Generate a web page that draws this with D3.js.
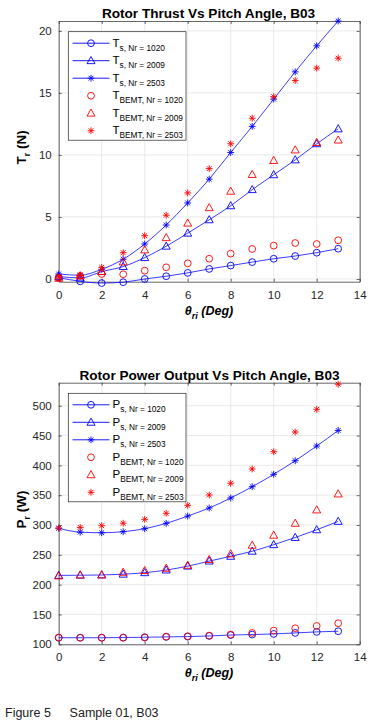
<html>
<meta charset="utf-8" />
<head>
<title>Rotor thrust and power vs pitch angle, B03</title>
<script src="https://cdn.jsdelivr.net/npm/d3@7"></script>
<style>
body { margin:0; background:#fff; }
text { font-family: "Liberation Sans", Arial, sans-serif; }
</style>
<script>
// pitch angle (deg)
const pitch = [0,1,2,3,4,5,6,7,8,9,10,11,12,13];

// rotor thrust (N)
const tS1020    = [0.11,-0.19,-0.33,-0.26,0.0,0.22,0.49,0.81,1.08,1.36,1.63,1.85,2.12,2.44];
const tS2009    = [0.2,0.08,0.59,1.0,1.72,2.64,3.69,4.77,5.9,7.2,8.4,9.6,10.9,12.1];
const tS2503    = [0.4,0.3,0.78,1.59,2.82,4.35,6.13,8.05,10.2,12.3,14.5,16.7,18.8,20.8];
const tB1020    = [0.1,0.24,0.4,0.38,0.67,0.94,1.26,1.63,2.04,2.42,2.69,2.9,2.82,3.12];
const tB2009    = [0.05,0.25,0.6,1.37,2.34,3.33,4.5,5.74,7.07,8.42,9.55,10.4,11.0,11.2];
const tB2503    = [0.15,0.28,0.94,2.12,3.49,5.14,6.94,8.9,10.9,12.96,14.7,16.0,17.0,17.8];

// rotor power output (W)
const pS1020    = [111,111,111,111.3,111.8,112.4,112.9,114,115.5,116.3,117.4,119.1,120.8,121.9];
const pS2009    = [215.5,215.8,216.2,217.5,220,224.5,231,239.5,247.5,256,267,279,292,306];
const pS2503    = [294.5,288,287,288.8,293.8,302.8,315,328.5,345.3,364.2,385,407.8,432.4,458.5];
const pB1020    = [111.3,111,111,111,111.5,112.9,113.5,114.6,116.3,119.1,123,126.9,130.8,135.3];
const pB2009    = [214.5,216.2,216.2,220.7,223.5,227.4,232.4,242,251.5,266,282.8,302.8,325.2,352];
const pB2503    = [295,296,298.8,303,309.5,319.6,333,350.3,370,393.9,422.9,455.9,494,536];

const xTicks = [0,2,4,6,8,10,12,14];
const tTicks = [0,5,10,15,20];
const pTicks = [100,150,200,250,300,350,400,450,500];

const BLUE = "#0000ff", RED = "#ff0000", AX = "#262626";

function star(s) {
	const d = s * 0.707;
	return `M${-s},0L${s},0M0,${-s}L0,${s}M${-d},${-d}L${d},${d}M${-d},${d}L${d},${-d}`;
}
function tri(s) {
	return `M0,${-s}L${s*0.95},${s*0.7}L${-s*0.95},${s*0.7}Z`;
}
function marker(g, kind, color) {
	if (kind === "o") g.append("circle").attr("r", 3.4);
	else g.append("path").attr("d", kind === "^" ? tri(4.2) : star(3.4));
	g.selectAll("*").attr("fill", "none").attr("stroke", color).attr("stroke-width", 0.9);
}

function drawChart(svg, cfg) {
	const x = d3.scaleLinear().domain([0, 14]).range([58.7, 359.7]);
	const y = d3.scaleLinear().domain(cfg.yDomain).range(cfg.yRange);
	const [top, bottom] = [cfg.yRange[1], cfg.yRange[0]];

	const g = svg.append("g");
	// grid
	g.append("g").selectAll("line").data(xTicks).enter().append("line")
		.attr("x1", d => x(d)).attr("x2", d => x(d)).attr("y1", top).attr("y2", bottom)
		.attr("stroke", "#e3e3e3").attr("stroke-width", 0.8);
	g.append("g").selectAll("line").data(cfg.yTicks).enter().append("line")
		.attr("x1", x(0)).attr("x2", x(14)).attr("y1", d => y(d)).attr("y2", d => y(d))
		.attr("stroke", "#e3e3e3").attr("stroke-width", 0.8);

	// axes (box with inward ticks)
	const axB = d3.axisBottom(x).tickValues(xTicks).tickSizeInner(-3).tickSizeOuter(0).tickPadding(9);
	const axT = d3.axisTop(x).tickValues(xTicks).tickSizeInner(-3).tickSizeOuter(0).tickFormat("");
	const axL = d3.axisLeft(y).tickValues(cfg.yTicks).tickSizeInner(-3).tickSizeOuter(0).tickPadding(7);
	const axR = d3.axisRight(y).tickValues(cfg.yTicks).tickSizeInner(-3).tickSizeOuter(0).tickFormat("");
	[[axB, `translate(0,${bottom})`], [axT, `translate(0,${top})`],
	 [axL, `translate(${x(0)},0)`], [axR, `translate(${x(14)},0)`]].forEach(([a, t]) => {
		const ag = g.append("g").attr("transform", t).call(a);
		ag.selectAll("path,line").attr("stroke", AX).attr("stroke-width", 0.7);
		ag.selectAll("text").attr("fill", AX).style("font-size", "11.5px")
			.style("font-family", "'Liberation Sans', Arial, sans-serif");
	});

	// fitted lines + markers
	const line = d3.line().x((d, i) => x(pitch[i])).y(d => y(d)).curve(d3.curveMonotoneX);
	cfg.sim.forEach(s => {
		g.append("path").attr("d", line(s.v)).attr("fill", "none")
			.attr("stroke", BLUE).attr("stroke-width", 0.9).attr("opacity", 0.85);
	});
	cfg.sim.concat(cfg.bemt).forEach(s => {
		g.append("g").selectAll("g").data(s.v).enter().append("g")
			.attr("transform", (d, i) => `translate(${x(pitch[i])},${y(d)})`)
			.each(function() { marker(d3.select(this), s.m, s.c); });
	});

	// title
	svg.append("text").attr("x", cfg.titleX).attr("y", cfg.titleY).attr("text-anchor", "middle")
		.style("font-size", "13.6px").style("font-weight", "bold").attr("fill", "#000").text(cfg.title);

	// y label
	const yl = svg.append("text").attr("transform", `translate(25.5,${(top + bottom) / 2 - 4}) rotate(-90)`)
		.attr("text-anchor", "middle").style("font-weight", "bold").style("font-size", "13.5px").attr("fill", "#000");
	yl.append("tspan").text(cfg.sym);
	yl.append("tspan").attr("dy", 4).style("font-size", "9px").text("r");
	yl.append("tspan").attr("dy", -4).text(" (" + cfg.unit + ")");

	// x label
	const xl = svg.append("text").attr("x", 209).attr("y", bottom + 33).attr("text-anchor", "middle")
		.style("font-weight", "bold").style("font-style", "italic").style("font-size", "12.5px").attr("fill", "#000");
	xl.append("tspan").text("θ");
	xl.append("tspan").attr("dy", 4).style("font-size", "9px").text("ri");
	xl.append("tspan").attr("dy", -4).text(" (Deg)");

	// legend
	const lx = 68.3, ly = cfg.legTop, lw = 117.7, step = 17.5;
	const lg = svg.append("g");
	lg.append("rect").attr("x", lx).attr("y", ly).attr("width", lw).attr("height", step * 6 + 3.5)
		.attr("fill", "#fff").attr("stroke", AX).attr("stroke-width", 0.7);
	cfg.sim.concat(cfg.bemt).forEach((s, i) => {
		const cy = ly + 11.5 + i * step;
		if (i < 3) lg.append("line").attr("x1", 72.5).attr("x2", 109.5).attr("y1", cy).attr("y2", cy)
			.attr("stroke", BLUE).attr("stroke-width", 0.9);
		marker(lg.append("g").attr("transform", `translate(91,${cy})`), s.m, s.c);
		const t = lg.append("text").attr("x", 112.5).attr("y", cy + 3.5).attr("fill", "#000").style("font-size", "11.5px");
		t.append("tspan").text(cfg.sym);
		t.append("tspan").attr("dy", 4).style("font-size", "8.3px").text(s.label);
	});
}

window.onload = function() {
	const svg = d3.select("svg");

	drawChart(svg, {
		title: "Rotor Thrust Vs Pitch Angle, B03", titleX: 208.5, titleY: 17.5,
		sym: "T", unit: "N",
		yDomain: [-0.22, 20.8], yRange: [281.7, 21], yTicks: tTicks, legTop: 31.7,
		sim: [{v: tS1020, m: "o", c: BLUE, label: "s, Nr = 1020"},
		      {v: tS2009, m: "^", c: BLUE, label: "s, Nr = 2009"},
		      {v: tS2503, m: "*", c: BLUE, label: "s, Nr = 2503"}],
		bemt: [{v: tB1020, m: "o", c: RED, label: "BEMT, Nr = 1020"},
		       {v: tB2009, m: "^", c: RED, label: "BEMT, Nr = 2009"},
		       {v: tB2503, m: "*", c: RED, label: "BEMT, Nr = 2503"}]
	});

	drawChart(svg, {
		title: "Rotor Power Output Vs Pitch Angle, B03", titleX: 209.5, titleY: 379.5,
		sym: "P", unit: "W",
		yDomain: [100, 538.6], yRange: [644.3, 382.7], yTicks: pTicks, legTop: 393.3,
		sim: [{v: pS1020, m: "o", c: BLUE, label: "s, Nr = 1020"},
		      {v: pS2009, m: "^", c: BLUE, label: "s, Nr = 2009"},
		      {v: pS2503, m: "*", c: BLUE, label: "s, Nr = 2503"}],
		bemt: [{v: pB1020, m: "o", c: RED, label: "BEMT, Nr = 1020"},
		       {v: pB2009, m: "^", c: RED, label: "BEMT, Nr = 2009"},
		       {v: pB2503, m: "*", c: RED, label: "BEMT, Nr = 2503"}]
	});

	svg.append("text").attr("x", 5).attr("y", 717).attr("fill", "#222").style("font-size", "12.5px")
		.text("Figure 5\u2003\u2002Sample 01, B03").attr("xml:space", "preserve");
}
</script>
</head>
<body>
<svg width="376" height="724" style="display:block"></svg>
</body>
</html>
